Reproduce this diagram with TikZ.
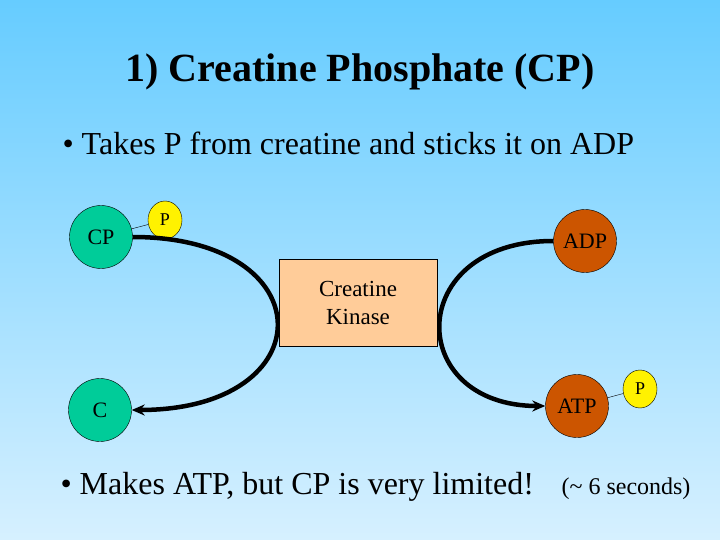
\documentclass[tikz,border=0pt]{standalone}
\usepackage{fontspec}
\setmainfont{Liberation Serif}
\usepackage{xcolor}
\usetikzlibrary{arrows.meta, positioning, shapes.geometric}

\definecolor{skytop}{RGB}{102,204,255}
\definecolor{skybottom}{RGB}{214,240,255}
\definecolor{cpgreen}{RGB}{0,204,153}
\definecolor{adporange}{RGB}{204,85,0}
\definecolor{kinasefill}{RGB}{255,204,153}

\begin{document}
\begin{tikzpicture}[
    x=1pt, y=-1pt,
    mol/.style={circle, draw, thin, minimum size=63pt, inner sep=0pt, font=\fontsize{22}{24}\selectfont},
    phos/.style={ellipse, draw, thin, fill=yellow, minimum width=34pt, minimum height=38pt, inner sep=0pt, font=\fontsize{18}{20}\selectfont},
    box/.style={rectangle, draw, thin, fill=kinasefill, minimum width=158pt, minimum height=87pt, align=center, font=\fontsize{23}{28}\selectfont},
    arrow/.style={-{Stealth[length=13pt, width=11pt]}, line width=4.5pt},
    bullet/.style={anchor=west, font=\fontsize{32}{34}\selectfont}
]
% Background
\shade[top color=skytop, bottom color=skybottom] (0,0) rectangle (720,540);
\useasboundingbox (0,0) rectangle (720,540);

% Title and bullets
\node[font=\fontsize{40}{42}\selectfont\bfseries] (title) at (360,72) {1) Creatine Phosphate (CP)};
\node[bullet] (takes) at (59,143) {\textbullet\ Takes P from creatine and sticks it on ADP};
\node[bullet] (makes) at (57,487) {\textbullet\ Makes ATP, but CP is very limited!};
\node[anchor=west, font=\fontsize{24}{26}\selectfont] (secs) at (558,489) {(\textasciitilde\ 6 seconds)};

% Molecules
\node[mol, fill=cpgreen] (cp) at (101,237) {CP};
\node[phos] (p1) at (165,220) {P};
\node[mol, fill=adporange] (adp) at (585,241) {ADP};
\node[mol, fill=cpgreen] (c) at (100,410) {C};
\node[mol, fill=adporange] (atp) at (577,406) {ATP};
\node[phos] (p2) at (640,389) {P};

% Reactions
\draw[arrow] (cp.east) .. controls (325,237) and (325,410) .. (c.east);
\draw[arrow] (adp.west) .. controls (404,241) and (404,406) .. (atp.west);
\draw[thin] (cp) -- (p1);
\draw[thin] (atp) -- (p2);

% Enzyme
\node[box] (kinase) at (358,303) {Creatine\\Kinase};
\end{tikzpicture}
\end{document}
